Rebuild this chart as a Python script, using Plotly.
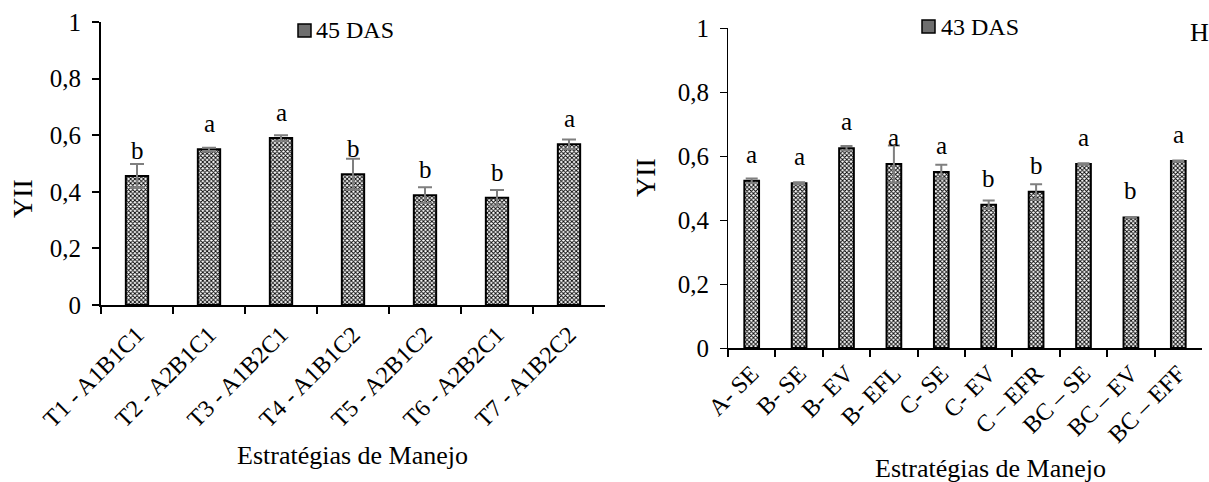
import plotly.graph_objects as go

# ---- data ----
cats_left = ["T1 - A1B1C1", "T2 - A2B1C1", "T3 - A1B2C1", "T4 - A1B1C2",
             "T5 - A2B1C2", "T6 - A2B2C1", "T7 - A1B2C2"]
vals_left = [0.456, 0.550, 0.590, 0.462, 0.388, 0.379, 0.568]
err_left = [0.042, 0.006, 0.010, 0.055, 0.028, 0.027, 0.017]
letters_left = ["b", "a", "a", "b", "b", "b", "a"]

cats_right = ["A- SE", "B- SE", "B- EV", "B- EFL", "C- SE", "C- EV",
              "C \u2013 EFR", "BC \u2013 SE", "BC \u2013 EV", "BC \u2013 EFF"]
vals_right = [0.523, 0.515, 0.624, 0.575, 0.550, 0.448, 0.488, 0.575, 0.408, 0.584]
err_right = [0.007, 0.003, 0.007, 0.058, 0.023, 0.013, 0.024, 0.002, 0.001, 0.002]
letters_right = ["a", "a", "a", "a", "a", "b", "b", "a", "b", "a"]

y_ticks = [0, 0.2, 0.4, 0.6, 0.8, 1]

FONT = "Liberation Serif"
W, H = 1209, 482
pattern = dict(shape="x", size=3, solidity=0.5, fgcolor="black", bgcolor="white",
               fillmode="replace")

fig = go.Figure()

fig.add_trace(go.Bar(
    x=cats_left, y=vals_left, name="45 DAS", xaxis="x", yaxis="y",
    marker=dict(color="white", pattern=pattern, line=dict(color="black", width=2)),
    error_y=dict(type="data", array=err_left, color="#7f7f7f", thickness=2, width=7),
    showlegend=False,
))
fig.add_trace(go.Bar(
    x=cats_right, y=vals_right, name="43 DAS", xaxis="x2", yaxis="y2",
    marker=dict(color="white", pattern=pattern, line=dict(color="black", width=2)),
    error_y=dict(type="data", array=err_right, color="#7f7f7f", thickness=2, width=6),
    showlegend=False,
))

lfont = dict(size=25, family=FONT, color="black")
annotations = []
for c, v, l in zip(cats_left, vals_left, letters_left):
    annotations.append(dict(x=c, y=v, xref="x", yref="y", text=l, showarrow=False,
                            yanchor="bottom", yshift=10, font=lfont))
for c, v, l in zip(cats_right, vals_right, letters_right):
    annotations.append(dict(x=c, y=v, xref="x2", yref="y2", text=l, showarrow=False,
                            yanchor="bottom", yshift=11, font=lfont))

annotations += [
    dict(x=314 / W, y=1 - 30 / H, xref="paper", yref="paper", text="45 DAS",
         showarrow=False, xanchor="left", yanchor="middle",
         font=dict(size=24, family=FONT, color="black")),
    dict(x=939 / W, y=1 - 27 / H, xref="paper", yref="paper", text="43 DAS",
         showarrow=False, xanchor="left", yanchor="middle",
         font=dict(size=24, family=FONT, color="black")),
    dict(x=1199 / W, y=1 - 33 / H, xref="paper", yref="paper", text="H",
         showarrow=False, xanchor="center", yanchor="middle",
         font=dict(size=26, family=FONT, color="black")),
    dict(x=352 / W, y=1 - 455 / H, xref="paper", yref="paper", text="Estratégias de Manejo",
         showarrow=False, xanchor="center", yanchor="middle",
         font=dict(size=26, family=FONT, color="black")),
    dict(x=990 / W, y=1 - 468 / H, xref="paper", yref="paper", text="Estratégias de Manejo",
         showarrow=False, xanchor="center", yanchor="middle",
         font=dict(size=26, family=FONT, color="black")),
    dict(x=22 / W, y=1 - 199 / H, xref="paper", yref="paper", text="YII", textangle=-90,
         showarrow=False, xanchor="center", yanchor="middle",
         font=dict(size=28, family=FONT, color="black")),
    dict(x=645 / W, y=1 - 178 / H, xref="paper", yref="paper", text="YII", textangle=-90,
         showarrow=False, xanchor="center", yanchor="middle",
         font=dict(size=28, family=FONT, color="black")),
]

shapes = [
    dict(type="rect", xref="paper", yref="paper",
         x0=298 / W, x1=311 / W, y0=1 - 37 / H, y1=1 - 24 / H,
         fillcolor="#6e6e6e", line=dict(color="black", width=1.5)),
    dict(type="rect", xref="paper", yref="paper",
         x0=922 / W, x1=935 / W, y0=1 - 33 / H, y1=1 - 20 / H,
         fillcolor="#6e6e6e", line=dict(color="black", width=1.5)),
]

tickfont = dict(size=25, family=FONT, color="black")
xtickfont = dict(size=24, family=FONT, color="black")

fig.update_layout(
    width=W, height=H,
    margin=dict(l=0, r=0, t=0, b=0),
    paper_bgcolor="white", plot_bgcolor="white",
    separators=",.",
    bargap=0.69,
    annotations=annotations,
    shapes=shapes,
    font=dict(family=FONT, color="black"),
    xaxis=dict(domain=[101 / W, 605 / W], anchor="y", showline=True, linecolor="black",
               linewidth=2, ticks="outside", ticklen=7, tickwidth=2, tickcolor="black",
               tickangle=-45, tickfont=xtickfont, showgrid=False, tickson="boundaries",
               automargin=False, ticklabelstandoff=4),
    yaxis=dict(domain=[1 - 305 / H, 1 - 22 / H], anchor="x", range=[0, 1],
               tickvals=y_ticks, showline=True, linecolor="black", linewidth=2,
               ticks="outside", ticklen=7, tickwidth=2, tickcolor="black",
               tickfont=tickfont, showgrid=False, zeroline=False, automargin=False,
               ticklabelstandoff=6),
    xaxis2=dict(domain=[728 / W, 1202 / W], anchor="y2", showline=True, linecolor="black",
                linewidth=2, ticks="outside", ticklen=7, tickwidth=1.5, tickcolor="black",
                tickangle=-45, tickfont=xtickfont, showgrid=False, tickson="boundaries",
                automargin=False),
    yaxis2=dict(domain=[1 - 348 / H, 1 - 28 / H], anchor="x2", range=[0, 1],
                tickvals=y_ticks, showline=True, linecolor="black", linewidth=1,
                ticks="outside", ticklen=7, tickwidth=1, tickcolor="black",
                tickfont=tickfont, showgrid=False, zeroline=False, automargin=False,
                ticklabelstandoff=6),
)

fig.write_html("out.html")
